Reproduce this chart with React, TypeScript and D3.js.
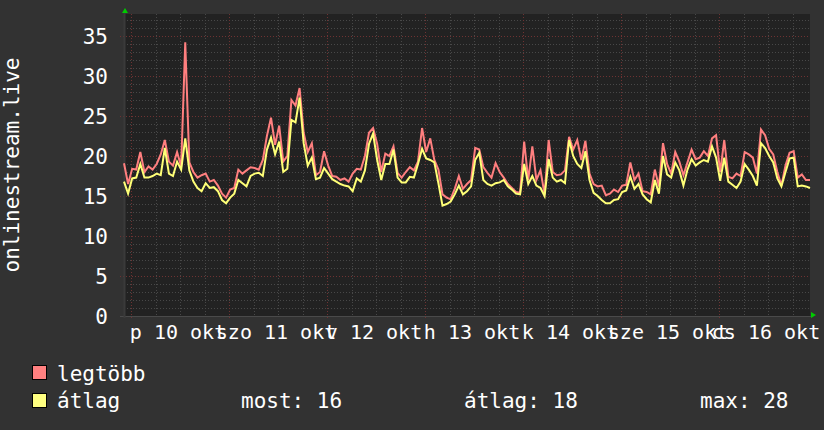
import React from "react";
import * as d3 from "d3";

const maxValues: number[] = [
  19.1, 16.5, 18.4, 18.3, 20.5, 18.0, 18.7, 18.3, 19.0, 20.2,
  22.0, 19.3, 18.8, 20.5, 18.7, 34.2, 19.2, 18.0, 17.3, 17.6,
  17.8, 16.8, 17.0, 16.3, 15.3, 14.8, 15.8, 16.0, 18.3, 17.8,
  18.2, 18.6, 18.5, 18.3, 19.5, 22.5, 24.8, 21.4, 23.8, 19.3,
  20.0, 27.0, 26.3, 28.5, 22.9, 20.5, 21.6, 17.6, 18.0, 20.6,
  18.8, 17.5, 17.4, 17.0, 17.2, 16.8, 17.8, 18.4, 18.3, 20.0,
  22.9, 23.5, 21.5, 18.0, 20.3, 20.0, 21.2, 17.9, 17.3, 18.0,
  18.6, 18.2, 19.3, 23.5, 20.5, 22.2, 19.5, 18.3, 15.2, 14.8,
  14.6, 15.9, 17.5, 15.9, 16.5, 17.0, 21.0, 20.8, 18.6, 17.9,
  17.3, 19.1, 18.0, 17.3, 16.5, 16.0, 15.5, 15.4, 21.8, 17.0,
  21.2, 17.0, 18.2, 15.2, 22.0, 18.0, 17.6, 17.7, 18.2, 22.4,
  20.8, 22.0, 19.5, 21.9, 17.8, 16.5, 16.2, 16.3, 15.1, 15.3,
  15.8, 15.5, 16.3, 16.4, 19.2, 17.0, 17.8, 15.6, 15.5, 15.2,
  18.3, 16.2, 21.6, 19.0, 17.8, 20.5, 19.3, 17.6, 19.2, 20.8,
  19.6, 19.8, 20.6, 20.0, 22.2, 22.6, 18.0, 22.0, 17.4, 17.2,
  17.8, 17.5, 20.5, 20.2, 19.8, 17.8, 23.3, 22.6, 20.9, 20.2,
  18.0, 16.3, 18.8, 20.4, 20.6, 17.3, 17.7, 17.0, 17.0,
];

const avgValues: number[] = [
  16.8, 15.3, 17.2, 17.3, 19.0, 17.3, 17.3, 17.5, 17.8, 17.6,
  21.0, 17.8, 17.5, 19.3, 18.3, 22.2, 18.2, 16.8, 16.0, 15.6,
  16.6, 16.0, 16.1, 15.6, 14.5, 14.1, 14.8, 15.3, 17.0, 16.6,
  16.2, 17.5, 17.8, 17.9, 17.5, 20.8, 22.3, 20.2, 21.8, 18.0,
  18.4, 24.5, 24.2, 27.3, 21.6, 18.8, 19.8, 17.1, 17.3, 18.5,
  17.8, 17.1, 16.8, 16.5, 16.3, 16.2, 15.6, 17.2, 16.8, 18.2,
  21.5, 22.8, 19.5, 17.0, 19.0, 19.0, 20.8, 17.3, 16.7, 16.7,
  17.4, 17.3, 19.0, 20.9, 19.7, 19.5, 19.2, 16.6, 13.8, 14.0,
  14.3, 15.2, 16.3, 15.2, 15.6, 16.2, 19.5, 20.4, 17.0, 16.5,
  16.3, 16.6, 16.7, 17.0, 16.2, 15.8, 15.3, 15.2, 19.0, 16.5,
  17.5, 16.3, 16.0, 15.0, 19.6, 17.3, 16.8, 17.0, 16.6, 22.0,
  20.0, 19.0, 18.5, 20.6, 17.0, 15.4, 15.0, 14.5, 14.1, 14.1,
  14.5, 14.6, 15.5, 15.7, 17.4, 15.9, 16.5, 15.2, 14.6, 14.2,
  17.0, 15.3, 20.0, 17.7, 17.3, 19.2, 18.2, 16.3, 18.3, 19.6,
  18.8, 19.2, 19.5, 19.3, 21.2, 19.8, 16.9, 19.8, 16.8, 16.4,
  16.0, 16.8, 19.0, 18.3, 17.5, 16.3, 21.6, 21.0, 20.0, 19.2,
  17.2, 16.2, 18.0, 19.7, 19.8, 16.2, 16.3, 16.2, 16.0,
];

const yTicks: number[] = [0, 5, 10, 15, 20, 25, 30, 35];
const dayLabels: string[] = ["p 10 okt", "szo 11 okt", "v 12 okt", "h 13 okt", "k 14 okt", "sze 15 okt", "cs 16 okt"];
const yTitle = "onlinestream.live";
const seriesNames: string[] = ["legtöbb", "átlag"];
const statLabels: string[] = ["most: 16", "átlag: 18", "max: 28"];

const W = 824;
const H = 430;
const FONT = "DejaVu Sans Mono";

export default function App() {
  const start = new Date(2025, 9, 9, 22, 17);
  const hour = 3600 * 1000;
  const end = new Date(start.getTime() + 168 * hour);
  const x = d3.scaleTime().domain([start, end]).range([124, 810]);
  const y = d3.scaleLinear().domain([0, 37.75]).range([316, 14]);

  const t = (i: number) => new Date(start.getTime() + i * hour);
  const line = d3
    .line<number>()
    .x((_, i) => x(t(i)))
    .y((d) => y(d))
    .curve(d3.curveLinear);

  const minorY = d3.range(1, 38).filter((v) => v % 5 !== 0);
  const majorY = d3.range(5, 38, 5);
  const firstMidnight = new Date(2025, 9, 10);
  const sixHours = d3.timeHour.every(6)!.range(start, end).filter((d) => d.getHours() !== 0);
  const midnights = d3.timeDay.range(firstMidnight, end);
  const noons = dayLabels.map((_, i) => new Date(2025, 9, 10 + i, 12));

  return (
    <svg width={W} height={H} style={{ position: "absolute", left: 0, top: 0 }} fontFamily={FONT}>
      <rect x={0} y={0} width={W} height={H} fill="#323232" />
      <rect x={124} y={14} width={686} height={302} fill="#222222" />
      {minorY.map((v) => (
        <line key={"my" + v} x1={124} x2={810} y1={y(v) + 0.5} y2={y(v) + 0.5} stroke="#484848" strokeDasharray="1,2" />
      ))}
      {sixHours.map((d, i) => (
        <line key={"mx" + i} x1={Math.round(x(d)) + 0.5} x2={Math.round(x(d)) + 0.5} y1={14} y2={316} stroke="#484848" strokeDasharray="1,2" />
      ))}
      {majorY.map((v) => (
        <line key={"My" + v} x1={120} x2={810} y1={y(v) + 0.5} y2={y(v) + 0.5} stroke="#6e3232" strokeDasharray="1,2" />
      ))}
      {midnights.map((d, i) => (
        <line key={"Mx" + i} x1={Math.round(x(d)) + 0.5} x2={Math.round(x(d)) + 0.5} y1={14} y2={319} stroke="#6e3232" strokeDasharray="1,2" />
      ))}
      <line x1={120} x2={812} y1={316.5} y2={316.5} stroke="#4a4a4a" />
      <line x1={124.5} x2={124.5} y1={12} y2={318} stroke="#3a3a3a" strokeWidth={2} />
      <polygon points="122,13 128,13 125,8" fill="#00cc00" />
      <polygon points="811,312 811,318 816,315" fill="#00cc00" />
      <path d={line(maxValues) ?? ""} fill="none" stroke="#ff7f7f" strokeWidth={2} strokeLinejoin="miter" />
      <path d={line(avgValues) ?? ""} fill="none" stroke="#ffff77" strokeWidth={2} strokeLinejoin="miter" />
      {yTicks.map((v) => (
        <text key={"yt" + v} x={108} y={y(v) + 7.5} textAnchor="end" fontSize={21} fill="#ffffff">
          {v}
        </text>
      ))}
      {noons.map((d, i) => (
        <text key={"xl" + i} x={x(d) - 2} y={339} textAnchor="middle" fontSize={20} fill="#ffffff">
          {dayLabels[i]}
        </text>
      ))}
      <text transform="translate(19,165) rotate(-90)" textAnchor="middle" fontSize={21} fill="#ffffff">
        {yTitle}
      </text>
      <rect x={32.5} y={365.5} width={14} height={14} fill="#ff8080" stroke="#000" />
      <text x={57} y={381} fontSize={21} fill="#ffffff">{seriesNames[0]}</text>
      <rect x={32.5} y={393.5} width={14} height={14} fill="#ffff80" stroke="#000" />
      <text x={57} y={408} fontSize={21} fill="#ffffff">{seriesNames[1]}</text>
      <text x={241} y={408} fontSize={21} fill="#ffffff">{statLabels[0]}</text>
      <text x={464} y={408} fontSize={21} fill="#ffffff">{statLabels[1]}</text>
      <text x={700} y={408} fontSize={21} fill="#ffffff">{statLabels[2]}</text>
    </svg>
  );
}
